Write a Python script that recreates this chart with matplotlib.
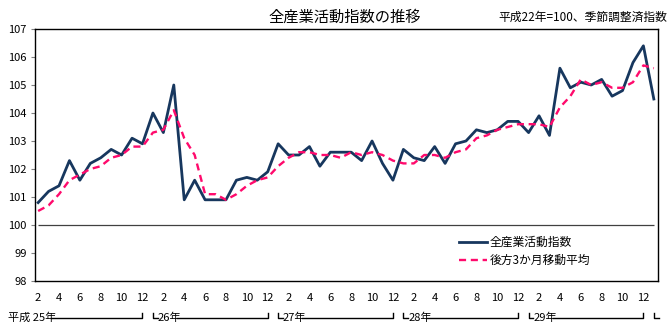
import matplotlib
matplotlib.use("Agg")
import matplotlib.pyplot as plt
import matplotlib.transforms as mtransforms

plt.rcParams['font.family'] = ['Noto Sans CJK JP', 'DejaVu Sans']

# 平成25年2月 〜 平成30年1月 (月次)
years = [25, 26, 27, 28, 29, 30]
first_month = 2

activity = [
    100.8, 101.2, 101.4, 102.3, 101.6, 102.2, 102.4, 102.7, 102.5, 103.1, 102.9,
    104.0, 103.3, 105.0, 100.9, 101.6, 100.9, 100.9, 100.9, 101.6, 101.7, 101.6, 101.9,
    102.9, 102.5, 102.5, 102.8, 102.1, 102.6, 102.6, 102.6, 102.3, 103.0, 102.2, 101.6,
    102.7, 102.4, 102.3, 102.8, 102.2, 102.9, 103.0, 103.4, 103.3, 103.4, 103.7, 103.7,
    103.3, 103.9, 103.2, 105.6, 104.9, 105.1, 105.0, 105.2, 104.6, 104.8, 105.8, 106.4,
    104.5,
]
moving_avg = [
    100.5, 100.7, 101.1, 101.6, 101.8, 102.0, 102.1, 102.4, 102.5, 102.8, 102.8,
    103.3, 103.4, 104.1, 103.1, 102.5, 101.1, 101.1, 100.9, 101.1, 101.4, 101.6, 101.7,
    102.1, 102.4, 102.6, 102.6, 102.5, 102.5, 102.4, 102.6, 102.5, 102.6, 102.5, 102.3,
    102.2, 102.2, 102.5, 102.5, 102.4, 102.6, 102.7, 103.1, 103.2, 103.4, 103.5, 103.6,
    103.6, 103.6, 103.5, 104.2, 104.6, 105.2, 105.0, 105.1, 104.9, 104.9, 105.1, 105.7,
    105.6,
]
y_ticks = list(range(98, 108))

n = len(activity)
x = list(range(n))
months = [(first_month - 1 + i) % 12 + 1 for i in x]

fig = plt.figure(figsize=(6.7, 3.27), dpi=100)
ax = fig.add_axes([35 / 670, 1 - 281 / 327, 623 / 670, 252 / 327])

ax.hlines(100, x[0], x[-1], color='#404040', lw=0.9, zorder=1)
ax.plot(x, activity, color='#17375E', lw=2.0, label='全産業活動指数', zorder=3)
ax.plot(x, moving_avg, color='#FF0A6C', lw=1.7, ls=(0, (3, 2)),
        label='後方3か月移動平均', zorder=4)

ax.set_xlim(-0.3, n - 1 + 0.4)
ax.set_ylim(y_ticks[0], y_ticks[-1])
ax.set_yticks(y_ticks)
ax.set_yticklabels([str(v) for v in y_ticks])

tick_pos = [i for i in x if months[i] % 2 == 0]
ax.set_xticks(tick_pos)
ax.set_xticklabels([str(months[i]) for i in tick_pos])
ax.tick_params(axis='x', length=0, pad=8.5, labelsize=8)
ax.tick_params(axis='y', length=3, width=0.8, color='#808080', pad=3, labelsize=8)

for s in ax.spines.values():
    s.set_color('black')
    s.set_linewidth(1.0)

leg = ax.legend(loc='upper left', bbox_to_anchor=(0.68, 0.18), frameon=False,
                fontsize=8.5, handlelength=2.4, handletextpad=0.25,
                labelspacing=0.45, borderpad=0, borderaxespad=0)

# 年の区切り線
trans = mtransforms.blended_transform_factory(ax.transData, fig.transFigure)
line_y = 1 - 317.5 / 327
tick_top = 1 - 312.5 / 327
text_y = 1 - 318 / 327
kw = dict(color='black', lw=1.0, clip_on=False, transform=trans)
for k, yr in enumerate(years):
    jan = k * 12 - (first_month - 1)
    dec = jan + 11
    if k == 0:
        fig.text(8 / 670, text_y, f'平成 {yr}年', fontsize=8, va='center', ha='left')
        ax.plot([1.2, dec, dec], [line_y, line_y, tick_top], **kw)
        continue
    ax.plot([jan, jan, jan + 0.45], [tick_top, line_y, line_y], **kw)
    if dec <= n - 1:
        ax.text(jan + 0.45, text_y, f'{yr}年', fontsize=8, va='center', ha='left',
                transform=trans)
        ax.plot([jan + 2.3, dec, dec], [line_y, line_y, tick_top], **kw)

fig.text(345 / 670, 1 - 17 / 327, '全産業活動指数の推移', fontsize=11,
         ha='center', va='center')
fig.text(667 / 670, 1 - 17 / 327, '平成22年=100、季節調整済指数', fontsize=8.5,
         ha='right', va='center')

fig.savefig('out.png', dpi=100)
